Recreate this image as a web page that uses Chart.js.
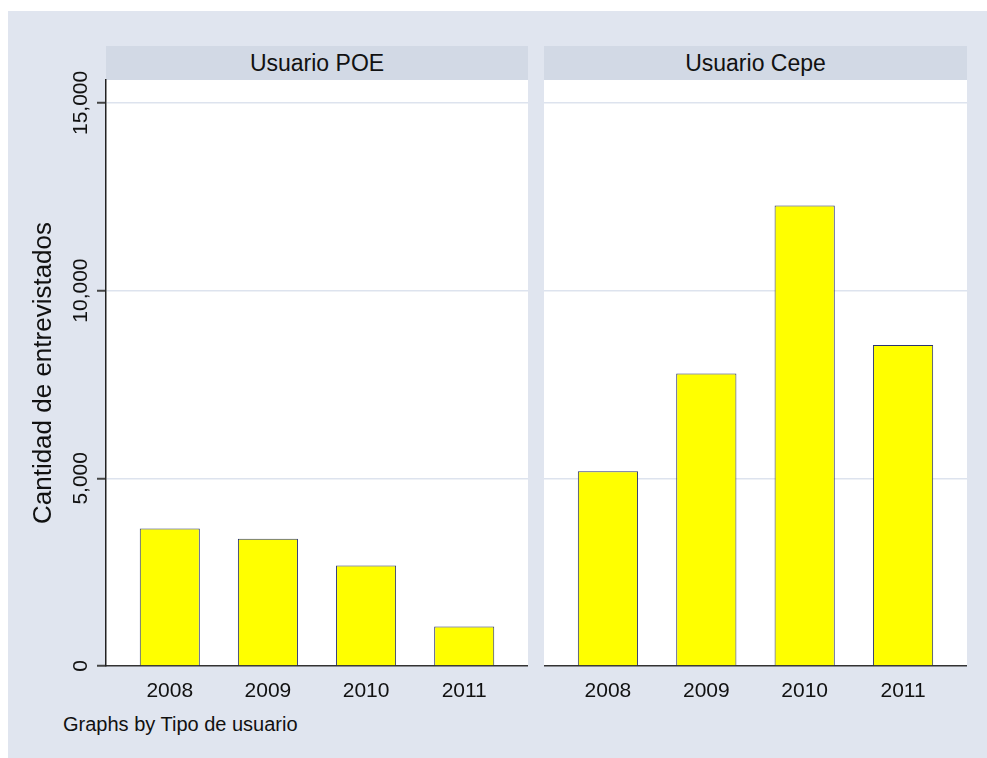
<!DOCTYPE html>
<html lang="es">
  <head>
    <meta charset="UTF-8" />
    <title>Cantidad de entrevistados por tipo de usuario</title>
    <script src="https://cdn.jsdelivr.net/npm/chart.js"></script>
    <style>
      body {
        margin: 0;
        background: #ffffff;
        font-family: "Liberation Sans", Arial, sans-serif;
        color: #111;
      }
      #frame {
        position: absolute;
        left: 8px;
        top: 11px;
        width: 979px;
        height: 747px;
        background: #e0e5ef;
      }
      .strip {
        position: absolute;
        top: 46px;
        height: 34px;
        line-height: 34px;
        background: #d2d9e5;
        text-align: center;
        font-size: 23px;
      }
      canvas {
        position: absolute;
        top: 46px;
      }
      #note {
        position: absolute;
        left: 63px;
        top: 713px;
        font-size: 20px;
      }
    </style>
  </head>
  <body>
    <div id="frame"></div>
    <div class="strip" id="strip1" style="left: 106px; width: 422px"></div>
    <div class="strip" id="strip2" style="left: 544px; width: 423px"></div>
    <canvas id="chartPoe" width="520" height="660" style="left: 8px"></canvas>
    <canvas id="chartCepe" width="423" height="660" style="left: 544px"></canvas>
    <div id="note"></div>

    <script>
      const years = [2008, 2009, 2010, 2011];
      const poeValues = [3660, 3390, 2675, 1050];
      const cepeValues = [5190, 7790, 12270, 8550];
      const yTicks = [0, 5000, 10000, 15000];
      const yMax = 15610;
      const panelTitles = ["Usuario POE", "Usuario Cepe"];
      const yTitle = "Cantidad de entrevistados";
      const noteText = "Graphs by Tipo de usuario";

      document.getElementById("strip1").textContent = panelTitles[0];
      document.getElementById("strip2").textContent = panelTitles[1];
      document.getElementById("note").textContent = noteText;

      Chart.defaults.font.family = '"Liberation Sans", Arial, sans-serif';
      Chart.defaults.color = "#111";

      // white plot region, like the Stata plot area
      const plotBackground = {
        id: "plotBackground",
        beforeDraw(chart) {
          const { ctx, chartArea } = chart;
          ctx.save();
          ctx.fillStyle = "#ffffff";
          ctx.fillRect(chartArea.left, chartArea.top, chartArea.width, chartArea.height);
          ctx.restore();
        },
      };

      function gridColor(ctx) {
        return ctx.tick && ctx.tick.value === 0 ? "rgba(0,0,0,0)" : "#dde3ee";
      }

      function makeChart(id, values, withAxis) {
        const ctx = document.getElementById(id).getContext("2d");
        return new Chart(ctx, {
          type: "bar",
          data: {
            datasets: [
              {
                data: years.map((y, i) => ({ x: y, y: values[i] })),
                backgroundColor: "#ffff00",
                borderColor: "#2a3472",
                borderWidth: 1,
                barPercentage: 0.612,
                categoryPercentage: 1,
              },
            ],
          },
          plugins: [plotBackground],
          options: {
            responsive: false,
            animation: false,
            layout: { padding: { top: 34, left: 0, right: 0, bottom: 0 } },
            plugins: {
              legend: { display: false },
              tooltip: { enabled: false },
            },
            scales: {
              x: {
                type: "linear",
                offset: false,
                min: 2007.35,
                max: 2011.65,
                afterBuildTicks: (s) => {
                  s.ticks = years.map((v) => ({ value: v }));
                },
                afterFit: (s) => {
                  s.height = 40;
                },
                grid: { display: false, offset: false },
                border: { color: "#333", width: 1.5 },
                ticks: {
                  autoSkip: false,
                  maxRotation: 0,
                  padding: 5,
                  font: { size: 21 },
                  color: "#111",
                  callback: (v) => String(v),
                },
              },
              y: {
                min: 0,
                max: yMax,
                afterBuildTicks: (s) => {
                  s.ticks = yTicks.map((v) => ({ value: v }));
                },
                afterFit: (s) => {
                  s.width = withAxis ? 98 : 0;
                },
                grid: {
                  color: gridColor,
                  lineWidth: 1.5,
                  drawTicks: withAxis,
                  tickLength: withAxis ? 9 : 0,
                  tickColor: "#444",
                  tickWidth: 2,
                },
                border: { display: withAxis, color: "#222", width: 1.5 },
                ticks: {
                  display: withAxis,
                  minRotation: 90,
                  maxRotation: 90,
                  crossAlign: "center",
                  padding: -16,
                  font: { size: 21 },
                  color: "#111",
                  callback: (v) => v.toLocaleString("en-US"),
                },
                title: {
                  display: withAxis,
                  text: yTitle,
                  font: { size: 26 },
                  color: "#111",
                  padding: { top: 20, bottom: 0 },
                },
              },
            },
          },
        });
      }

      makeChart("chartPoe", poeValues, true);
      makeChart("chartCepe", cepeValues, false);
    </script>
  </body>
</html>
